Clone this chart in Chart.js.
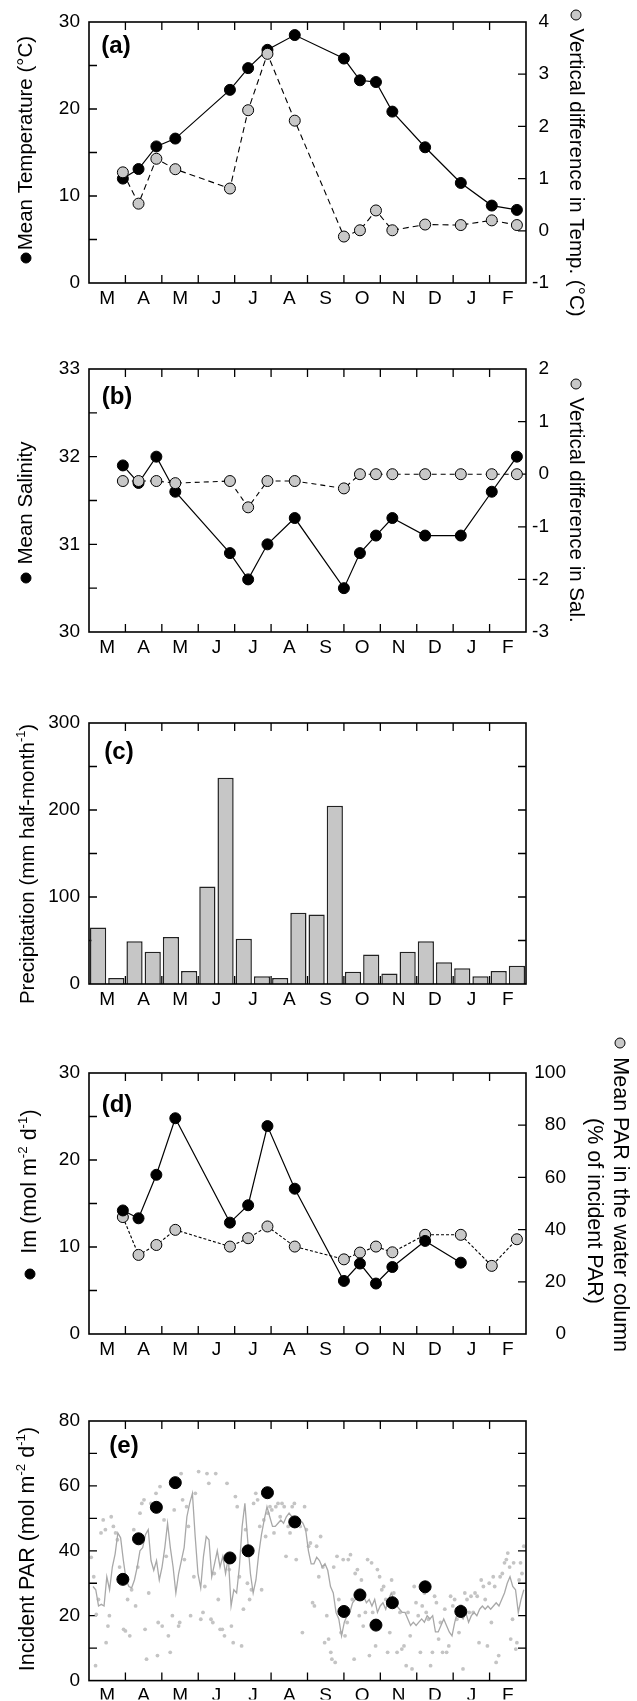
<!DOCTYPE html>
<html>
<head>
<meta charset="utf-8">
<script src="https://cdn.jsdelivr.net/npm/chart.js@4.4.1/dist/chart.umd.min.js"></script>
<style>
  html, body { margin: 0; padding: 0; background: #fff; }
  #wrap { position: relative; width: 637px; height: 1701px; overflow: hidden; }
  canvas { position: absolute; left: 0; }
</style>
</head>
<body>
<div id="wrap">
  <canvas id="chartA" width="637" height="340" style="top:0px"></canvas>
  <canvas id="chartB" width="637" height="345" style="top:340px"></canvas>
  <canvas id="chartC" width="637" height="345" style="top:685px"></canvas>
  <canvas id="chartD" width="637" height="335" style="top:1030px"></canvas>
  <canvas id="chartE" width="637" height="336" style="top:1365px"></canvas>
</div>
<script>
// month axis (March -> February), x unit = months since 1 March
const months = ['M', 'A', 'M', 'J', 'J', 'A', 'S', 'O', 'N', 'D', 'J', 'F'];

// survey dates (months since 1 March)
const surveyMonth = [0.93, 1.36, 1.85, 2.37, 3.87, 4.37, 4.9, 5.65, 7.0, 7.44, 7.88, 8.33, 9.23, 10.21, 11.06, 11.75];

// (a) temperature
const meanTemp = [12.0, 13.1, 15.7, 16.6, 22.2, 24.7, 26.8, 28.5, 25.8, 23.3, 23.1, 19.7, 15.6, 11.5, 8.9, 8.4];
const tempDiff = [1.12, 0.52, 1.38, 1.18, 0.81, 2.31, 3.39, 2.11, -0.11, 0.01, 0.39, 0.01, 0.12, 0.11, 0.2, 0.11];

// (b) salinity
const meanSal = [31.9, 31.7, 32.0, 31.6, 30.9, 30.6, 31.0, 31.3, 30.5, 30.9, 31.1, 31.3, 31.1, 31.1, 31.6, 32.0];
const salDiff = [-0.13, -0.13, -0.13, -0.17, -0.13, -0.63, -0.13, -0.13, -0.27, 0, 0, 0, 0, 0, 0, 0];

// (c) precipitation per half month
const precip = [65, 7, 49, 37, 54, 15, 112, 237, 52, 9, 7, 82, 80, 205, 14, 34, 12, 37, 49, 25, 18, 9, 15, 21];

// (d) Im and mean PAR in water column
const imPAR = [14.2, 13.3, 18.3, 24.8, 12.8, 14.8, 23.9, 16.7, 6.1, 8.1, 5.8, 7.7, 10.7, 8.2];
const waterPARpct = [44.8, 30.3, 34.1, 39.9, 33.5, 36.7, 41.2, 33.5, 28.6, 31.2, 33.5, 31.3, 38.0, 38.0, 26.1, 36.3];

// (e) incident PAR at survey dates
const incPAR = [31.2, 43.7, 53.4, 61.0, 37.8, 40.0, 57.9, 48.9, 21.3, 26.4, 17.1, 24.0, 28.9, 21.3];

// (e) running mean of daily incident PAR
const runStart = 0.11, runEnd = 11.94;
const runPAR = [29, 28, 23, 23.5, 23, 32, 28, 35, 39, 45.5, 44, 37, 31, 29, 28.6, 31, 35, 40, 41, 45, 46.5, 37, 34, 37, 31, 35, 41, 48.5, 41, 35,
  27, 33, 37, 41, 50.5, 54.6, 57.7, 44.4, 33, 28.6, 38.3, 44.4, 43.4, 32, 36, 40, 35, 38.3, 33, 38, 23, 28, 27, 35, 47.5, 54.6, 43.4, 33, 27, 31,
  39, 45, 49.5, 53.6, 50.5, 47.5, 47.5, 48.5, 49.5, 48.5, 50.5, 51.6, 50.5, 50.5, 48.5, 49.5, 48.5, 46.5, 40, 36, 36, 38, 37, 35, 36, 34, 29, 27, 21, 19,
  13.8, 18, 20, 21, 24, 25, 27, 28, 26, 24, 25, 23, 25, 21, 23, 24, 22, 25, 27, 25, 23, 22, 21, 21, 19, 17, 18, 17, 18, 19, 18, 20, 19, 20,
  15, 15, 17, 19, 17, 15, 13.8, 18, 21, 20, 19, 21, 18, 20, 21, 20, 22, 23, 22, 23, 22, 23, 24, 23, 25, 27, 30, 32, 29, 28, 21, 25, 28];

// (e) daily incident PAR
const dailyMonth = [0.06, 0.13, 0.18, 0.20, 0.26, 0.33, 0.39, 0.45, 0.47, 0.52, 0.56, 0.61, 0.67, 0.73, 0.78, 0.84, 0.89, 0.95, 1.00, 1.06,
  1.12, 1.17, 1.23, 1.28, 1.34, 1.40, 1.45, 1.51, 1.54, 1.58, 1.64, 1.70, 1.76, 1.84, 1.88, 1.90, 1.95, 2.01, 2.06, 2.12,
  2.18, 2.23, 2.29, 2.34, 2.40, 2.46, 2.49, 2.53, 2.57, 2.62, 2.68, 2.73, 2.79, 2.88, 2.92, 3.01, 3.07, 3.13, 3.18, 3.24,
  3.29, 3.35, 3.40, 3.44, 3.48, 3.55, 3.60, 3.66, 3.72, 3.74, 3.79, 3.85, 3.91, 3.96, 4.02, 4.07, 4.13, 4.19, 4.24, 4.30,
  4.35, 4.41, 4.46, 4.52, 4.58, 4.63, 4.69, 4.74, 4.80, 4.85, 4.91, 4.97, 5.02, 5.08, 5.13, 5.19, 5.25, 5.30, 5.36, 5.41,
  5.47, 5.52, 5.58, 5.64, 5.69, 5.80, 5.86, 5.92, 5.97, 6.03, 6.08, 6.14, 6.19, 6.25, 6.31, 6.36, 6.42, 6.47, 6.53, 6.58,
  6.64, 6.67, 6.72, 6.76, 6.81, 6.86, 6.92, 6.98, 7.03, 7.09, 7.12, 7.18, 7.23, 7.28, 7.31, 7.37, 7.42, 7.48, 7.53, 7.59,
  7.65, 7.70, 7.76, 7.79, 7.83, 7.87, 7.92, 7.98, 8.04, 8.09, 8.15, 8.20, 8.26, 8.31, 8.37, 8.43, 8.46, 8.54, 8.59, 8.65,
  8.71, 8.76, 8.82, 8.87, 8.93, 8.98, 9.04, 9.10, 9.15, 9.21, 9.26, 9.32, 9.38, 9.43, 9.49, 9.54, 9.60, 9.65, 9.71, 9.77,
  9.82, 9.88, 9.93, 9.99, 10.04, 10.10, 10.16, 10.21, 10.27, 10.32, 10.38, 10.44, 10.49, 10.55, 10.60, 10.66, 10.71, 10.77, 10.83, 10.88,
  10.94, 10.99, 11.05, 11.10, 11.14, 11.18, 11.25, 11.29, 11.35, 11.41, 11.46, 11.50, 11.55, 11.58, 11.63, 11.66, 11.72, 11.75, 11.81, 11.85,
  11.89, 11.94];
const dailyPAR = [38, 32, 4.6, 20.4, 25, 45.5, 49.5, 46.5, 11.7, 16.8, 20, 50.5, 47.5, 45.5, 43.4, 35, 31, 15.8, 15.3, 25,
  13.8, 28, 46.5, 23, 35, 51.6, 54.6, 55.7, 15.8, 6.6, 27, 54.6, 53.6, 57.7, 7.7, 17.9, 59.8, 16.8, 49.5, 38.3,
  13.8, 8.7, 20, 52.6, 61.8, 16.8, 17.9, 63.8, 55.7, 37.3, 53.6, 47.5, 20, 32, 57.7, 64.4, 18.9, 21, 29, 63.8,
  60.8, 18.9, 17.9, 33, 63.8, 25, 15.8, 15.8, 13.8, 37.3, 60.8, 34.2, 16.8, 11.7, 56.7, 53.6, 32, 10.7, 22, 46.5,
  30, 25, 28, 54.6, 57.7, 55.7, 47.5, 28, 49.5, 44.4, 51.6, 53.6, 52.6, 45.5, 53.6, 54.6, 50.5, 54.6, 53.6, 38.3,
  47.5, 45.5, 53.6, 54.6, 37.3, 47.5, 14.8, 53.6, 46.5, 41.4, 42.4, 24, 23, 41.4, 32, 44.4, 35, 11.7, 20, 12.8,
  8.7, 6.6, 35, 5.6, 38.3, 25, 14.8, 37.3, 13.8, 17.9, 37.3, 38.8, 25, 6.6, 33, 34.2, 20, 31, 16.8, 21,
  37.3, 7.7, 36.3, 21, 16.8, 10.7, 34.2, 32, 28, 29, 25, 8.7, 14.8, 31, 27, 24, 8.7, 21, 9.7, 10.7,
  4.6, 21, 13.8, 3.6, 29, 24, 20, 8.7, 23, 27, 21, 18.9, 4.6, 8.7, 26, 24, 12.8, 17.9, 8.7, 22,
  8.7, 10.7, 26, 23, 25, 18.9, 14.8, 23, 3.6, 27, 25, 21, 26, 21, 27, 26, 11.7, 31, 29, 25,
  10.7, 30, 17.9, 32, 29, 5.6, 7.7, 32, 33, 36.3, 37.3, 39.3, 35, 12.8, 18.9, 36.3, 9.7, 11.7, 31, 36.3,
  33, 41.4];

const FONT = '"Liberation Sans", Arial, Helvetica, sans-serif';
const GRAY = '#c8c8c8';
const TICK = 8;

const pts = (xs, ys) => ys.map((v, i) => ({ x: xs[i], y: v }));

// rotated axis title, optionally with marker dots and superscripts
function drawTitle(ctx, t) {
  const supSize = t.size * 0.62;
  const measure = p => {
    if (p.dot) return t.size * 0.62;
    ctx.font = `${p.sup ? supSize : t.size}px ${FONT}`;
    return ctx.measureText(p.t).width;
  };
  const total = t.parts.reduce((s, p) => s + measure(p), 0);
  ctx.save();
  ctx.translate(t.x, t.y);
  ctx.rotate(t.rot * Math.PI / 180);
  ctx.textAlign = 'left';
  ctx.textBaseline = 'middle';
  let x = t.anchor === 'start' ? 0 : -total / 2;
  t.parts.forEach(p => {
    const w = measure(p);
    if (p.dot) {
      ctx.beginPath();
      ctx.arc(x + 5, 0, 5, 0, Math.PI * 2);
      ctx.fillStyle = p.dot;
      ctx.fill();
      ctx.lineWidth = 1;
      ctx.strokeStyle = '#000';
      ctx.stroke();
    } else {
      ctx.fillStyle = '#000';
      ctx.fillText(p.t, x, p.sup ? -t.size * 0.33 : 0);
    }
    x += w;
  });
  ctx.restore();
}

// inward tick marks, frame, panel letter and axis titles
const decor = {
  id: 'decor',
  beforeDatasetsDraw(chart, args, o) {
    const { ctx, chartArea: a, scales } = chart;
    ctx.save();
    ctx.strokeStyle = '#000';
    ctx.lineWidth = 1.3;
    ctx.beginPath();
    for (let m = 1; m < months.length; m++) {
      const px = scales.x.getPixelForValue(m);
      ctx.moveTo(px, a.bottom); ctx.lineTo(px, a.bottom - TICK);
      ctx.moveTo(px, a.top); ctx.lineTo(px, a.top + TICK);
    }
    o.leftTicks.forEach(v => {
      const py = scales.y.getPixelForValue(v);
      ctx.moveTo(a.left, py); ctx.lineTo(a.left + TICK, py);
    });
    const rs = scales[o.rightScale];
    o.rightTicks.forEach(v => {
      const py = rs.getPixelForValue(v);
      ctx.moveTo(a.right, py); ctx.lineTo(a.right - TICK, py);
    });
    ctx.stroke();
    ctx.restore();
  },
  afterDatasetsDraw(chart, args, o) {
    const { ctx, chartArea: a } = chart;
    ctx.save();
    ctx.strokeStyle = '#000';
    ctx.lineWidth = 1.6;
    ctx.strokeRect(a.left, a.top, a.right - a.left, a.bottom - a.top);
    ctx.fillStyle = '#000';
    ctx.font = `bold 24px ${FONT}`;
    ctx.textAlign = 'center';
    ctx.textBaseline = 'middle';
    ctx.fillText(o.label.text, a.left + o.label.dx, a.top + o.label.dy);
    o.titles.forEach(t => drawTitle(ctx, t));
    ctx.restore();
  }
};

const tickFont = { family: FONT, size: 19 };

function makeOptions(p) {
  const scales = {
    x: {
      type: 'linear', min: 0, max: 12, offset: false,
      afterBuildTicks: s => { s.ticks = months.map((m, i) => ({ value: i + 0.5 })); },
      ticks: { callback: (v, i) => months[i], color: '#000', font: tickFont, padding: 4, autoSkip: false, maxRotation: 0 },
      grid: { display: false, drawTicks: false },
      border: { display: false },
      afterFit: s => { s.height = p.xAxisH; }
    },
    y: {
      type: 'linear', position: 'left', min: p.yMin, max: p.yMax,
      afterBuildTicks: s => { s.ticks = p.yLabels.map(v => ({ value: v })); },
      ticks: { color: '#000', font: tickFont, padding: 9 },
      grid: { display: false, drawTicks: false },
      border: { display: false },
      afterFit: s => { s.width = 89; }
    }
  };
  if (p.y2Labels) {
    scales.y2 = {
      type: 'linear', position: 'right', min: p.y2Min, max: p.y2Max,
      afterBuildTicks: s => { s.ticks = p.y2Labels.map(v => ({ value: v })); },
      ticks: { color: '#000', font: tickFont, padding: 0, crossAlign: 'far' },
      grid: { display: false, drawTicks: false },
      border: { display: false },
      afterFit: s => { s.width = p.y2W; }
    };
  }
  return {
    responsive: false,
    animation: false,
    layout: { padding: { top: p.top, right: p.padRight, left: 0, bottom: 0 } },
    scales,
    plugins: {
      legend: { display: false },
      tooltip: { enabled: false },
      decor: p.decor
    }
  };
}

const blackLine = (data, axis, order) => ({
  data, yAxisID: axis, order,
  borderColor: '#000', borderWidth: 1.2, tension: 0,
  pointRadius: 5.5, pointBackgroundColor: '#000', pointBorderColor: '#000', pointBorderWidth: 1
});
const grayLine = (data, axis, order, dash) => ({
  data, yAxisID: axis, order,
  borderColor: '#000', borderWidth: 1.1, borderDash: dash, tension: 0,
  pointRadius: 5.5, pointBackgroundColor: GRAY, pointBorderColor: '#000', pointBorderWidth: 1
});

// (a)
new Chart(document.getElementById('chartA'), {
  type: 'line',
  data: { datasets: [
    blackLine(pts(surveyMonth, meanTemp), 'y', 1),
    grayLine(pts(surveyMonth, tempDiff), 'y2', 0, [6, 4])
  ] },
  options: makeOptions({
    top: 22, xAxisH: 57, padRight: 88, y2W: 23,
    yMin: 0, yMax: 30, yLabels: [0, 10, 20, 30],
    y2Min: -1, y2Max: 4, y2Labels: [-1, 0, 1, 2, 3, 4],
    decor: {
      leftTicks: [5, 10, 15, 20, 25], rightScale: 'y2', rightTicks: [0, 1, 2, 3],
      label: { text: '(a)', dx: 27, dy: 24.5 },
      titles: [
        { x: 26, y: 263, rot: -90, anchor: 'start', size: 20.5, parts: [{ dot: '#000' }, { t: 'Mean Temperature (°C)' }] },
        { x: 576, y: 10, rot: 90, anchor: 'start', size: 20.5, parts: [{ dot: GRAY }, { t: ' Vertical difference in Temp. (°C)' }] }
      ]
    }
  }),
  plugins: [decor]
});

// (b)
new Chart(document.getElementById('chartB'), {
  type: 'line',
  data: { datasets: [
    blackLine(pts(surveyMonth, meanSal), 'y', 1),
    grayLine(pts(surveyMonth, salDiff), 'y2', 0, [5, 4])
  ] },
  options: makeOptions({
    top: 29, xAxisH: 53, padRight: 88, y2W: 23,
    yMin: 30, yMax: 33, yLabels: [30, 31, 32, 33],
    y2Min: -3, y2Max: 2, y2Labels: [-3, -2, -1, 0, 1, 2],
    decor: {
      leftTicks: [30.5, 31, 31.5, 32, 32.5], rightScale: 'y2', rightTicks: [-2, -1, 0, 1],
      label: { text: '(b)', dx: 28, dy: 28 },
      titles: [
        { x: 26, y: 243, rot: -90, anchor: 'start', size: 20.5, parts: [{ dot: '#000' }, { t: ' Mean Salinity' }] },
        { x: 576, y: 39, rot: 90, anchor: 'start', size: 20.5, parts: [{ dot: GRAY }, { t: ' Vertical difference in Sal.' }] }
      ]
    }
  }),
  plugins: [decor]
});

// (c)
new Chart(document.getElementById('chartC'), {
  type: 'bar',
  data: { datasets: [{
    data: precip.map((v, i) => ({ x: (i + 0.5) / 2, y: v })),
    backgroundColor: '#c6c6c6', borderColor: '#222', borderWidth: 1.5,
    barPercentage: 0.89, categoryPercentage: 1
  }] },
  options: makeOptions({
    top: 38, xAxisH: 46, padRight: 111,
    yMin: 0, yMax: 300, yLabels: [0, 100, 200, 300],
    decor: {
      leftTicks: [50, 100, 150, 200, 250], rightScale: 'y', rightTicks: [50, 100, 150, 200, 250],
      label: { text: '(c)', dx: 30, dy: 29 },
      titles: [
        { x: 28, y: 179, rot: -90, anchor: 'center', size: 20.5,
          parts: [{ t: 'Precipitation (mm half-month' }, { t: '-1', sup: true }, { t: ')' }] }
      ]
    }
  }),
  plugins: [decor]
});

// (d)
new Chart(document.getElementById('chartD'), {
  type: 'line',
  data: { datasets: [
    blackLine(pts(surveyMonth, imPAR), 'y', 0),
    grayLine(pts(surveyMonth, waterPARpct), 'y2', 1, [3, 2])
  ] },
  options: makeOptions({
    top: 43, xAxisH: 31, padRight: 71, y2W: 40,
    yMin: 0, yMax: 30, yLabels: [0, 10, 20, 30],
    y2Min: 0, y2Max: 100, y2Labels: [0, 20, 40, 60, 80, 100],
    decor: {
      leftTicks: [5, 10, 15, 20, 25], rightScale: 'y2', rightTicks: [20, 40, 60, 80],
      label: { text: '(d)', dx: 28, dy: 32 },
      titles: [
        { x: 30, y: 249, rot: -90, anchor: 'start', size: 21.5,
          parts: [{ dot: '#000' }, { t: '  Im (mol m' }, { t: '-2', sup: true }, { t: ' d' }, { t: '-1', sup: true }, { t: ')' }] },
        { x: 620, y: 8, rot: 90, anchor: 'start', size: 21.5, parts: [{ dot: GRAY }, { t: ' Mean PAR in the water column' }] },
        { x: 594, y: 181, rot: 90, anchor: 'center', size: 21.5, parts: [{ t: '(% of incident PAR)' }] }
      ]
    }
  }),
  plugins: [decor]
});

// (e)
const runMonth = runPAR.map((v, i) => runStart + i * (runEnd - runStart) / (runPAR.length - 1));
new Chart(document.getElementById('chartE'), {
  type: 'line',
  data: { datasets: [
    { data: pts(surveyMonth, incPAR), order: 0, showLine: false,
      pointRadius: 6, pointBackgroundColor: '#000', pointBorderColor: '#000' },
    { data: pts(runMonth, runPAR), order: 1, borderColor: '#a8a8a8', borderWidth: 1.3, pointRadius: 0, tension: 0 },
    { data: pts(dailyMonth, dailyPAR), order: 2, showLine: false,
      pointRadius: 1.9, pointBackgroundColor: '#c4c4c4', pointBorderWidth: 0 }
  ] },
  options: makeOptions({
    top: 56, xAxisH: 19, padRight: 111,
    yMin: 0, yMax: 80, yLabels: [0, 20, 40, 60, 80],
    decor: {
      leftTicks: [10, 20, 30, 40, 50, 60, 70], rightScale: 'y', rightTicks: [10, 20, 30, 40, 50, 60, 70],
      label: { text: '(e)', dx: 35, dy: 25 },
      titles: [
        { x: 28, y: 184, rot: -90, anchor: 'center', size: 21.5,
          parts: [{ t: 'Incident PAR (mol m' }, { t: '-2', sup: true }, { t: ' d' }, { t: '-1', sup: true }, { t: ')' }] }
      ]
    }
  }),
  plugins: [decor]
});
</script>
</body>
</html>
